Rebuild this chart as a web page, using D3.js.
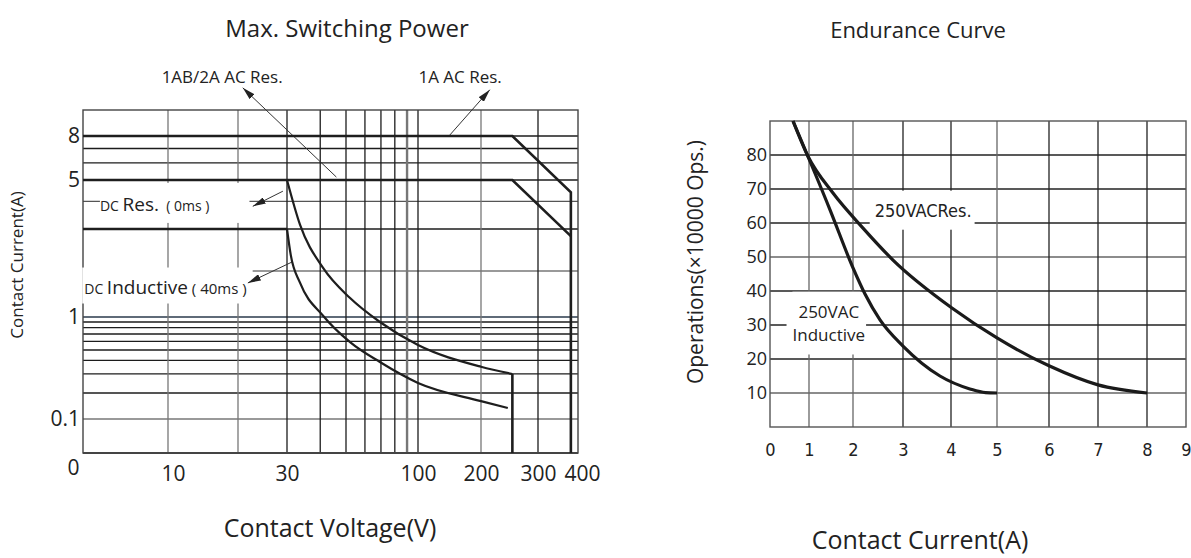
<!DOCTYPE html>
<html>
<head>
<meta charset="utf-8">
<script src="https://cdn.jsdelivr.net/npm/d3@7"></script>
<style>
  body { margin: 0; background: #fff; }
  text { font-family: "Open Sans", "Noto Sans", sans-serif; fill: #222; }
  .narrow { font-family: "Liberation Sans Narrow", "DejaVu Sans Condensed", "Roboto", sans-serif; }
</style>
</head>
<body>
<svg id="viz" width="1191" height="558"></svg>
<script>
(function() {
  var svg, defs, gL, gR, xL, yL, xR, yR, lineL, lineR, drawNotes;

  // ---------- left chart: Max. Switching Power ----------
  var voltTicks = [5, 10, 30, 100, 200, 300, 400];          // 5 is the origin, shown as "0"
  var voltGrid = [10, 20, 30, 40, 50, 60, 70, 80, 90, 100, 200, 300];
  var currTicks = [0.1, 1, 5, 8];
  var currGrid = [0.1, 0.2, 0.3, 0.4, 0.5, 0.6, 0.7, 0.8, 0.9, 1, 2, 3, 4, 5, 6, 7, 8];

  var acOneA = [[5, 8], [250, 8], [380, 4.4], [380, 0.05]];          // 1A AC Res.
  var acTwoA = [[5, 5], [250, 5], [380, 2.8]];                       // 1AB/2A AC Res.
  var dcRes = [[30, 5], [33.6, 3.13], [41, 2.06], [52, 1.33], [69.3, 0.9], [100, 0.555],
               [200, 0.35], [250, 0.3]];
  var dcResDrop = [[250, 0.3], [250, 0.05]];
  var dcIndFlat = [[5, 3], [30, 3]];
  var dcInd = [[30, 3], [31, 2.33], [33.6, 1.67], [41, 1.02], [52, 0.59], [69.3, 0.387],
               [100, 0.248], [200, 0.161], [242, 0.134]];

  var leftNotes = [
    { lines: [["1AB/2A AC Res.", 17]], at: [17.1, 13.2], anchor: "middle", arrow: [[46, 5.16], [20.8, 12.1]] },
    { lines: [["1A AC Res.", 17]], at: [159, 13.2], anchor: "middle", arrow: [[142, 8.07], [213, 11.9]] },
    { lines: [["DC ", 14], ["Res.", 19], ["  ( 0ms )", 14]], at: [5.74, 3.84], anchor: "start",
      box: [0, 8, 40, 6], arrow: [[29, 4.45], [22.6, 3.8]] },
    { lines: [["DC ", 14], ["Inductive", 19], [" ( 40ms )", 15]], at: [5.05, 1.55], anchor: "start",
      box: [2, 6, 6, 4], arrow: [[31.3, 2.18], [21.7, 1.67]] }
  ];

  // ---------- right chart: Endurance Curve ----------
  var ampTicks = [0, 1, 2, 3, 4, 5, 6, 7, 8, 9];
  var ampGrid = [1, 2, 3, 4, 5, 6, 7, 8];
  var opsTicks = [10, 20, 30, 40, 50, 60, 70, 80];
  var opsGrid = [10, 20, 30, 40, 50, 60, 70, 80];

  var resCurve = [[0.59, 90], [0.97, 79.7], [1.545, 68.8], [2.2, 58.5], [2.8, 49.1], [4.02, 35],
                  [5, 26.2], [6, 18], [7, 12.4], [8, 10]];
  var indCurve = [[0.59, 90], [1.48, 63.8], [2, 46.8], [2.24, 39.1], [2.54, 31.5], [3, 23.8],
                  [3.77, 15], [4.41, 11.2], [4.75, 10.1], [5, 10]];

  var rightNotes = [
    { lines: [["250VACRes.", 18]], at: [3.42, 63.5], anchor: "middle", narrow: true, box: [5, 9, 3, 9] },
    { lines: [["250VAC", 17]], at: [1.45, 33.8], anchor: "middle", box: [6, 8, 1, 0] },
    { lines: [["Inductive", 17]], at: [1.45, 26.8], anchor: "middle", box: [6, 2, 1, 8] }
  ];

  svg = d3.select("#viz");

  defs = svg.append("defs");
  defs.append("marker").attr("id", "arr").attr("viewBox", "0 0 13 7")
    .attr("refX", 13).attr("refY", 3.5).attr("markerWidth", 13).attr("markerHeight", 7)
    .attr("markerUnits", "userSpaceOnUse").attr("orient", "auto")
    .append("path").attr("d", "M0,0L13,3.5L0,7Z").attr("fill", "#222");

  // scales (the drawing's axes are hand-spaced, so they are piecewise)
  xL = d3.scaleLog().domain([5, 10, 20, 30, 50, 100, 200, 300, 400])
    .range([83, 168, 238, 287, 346, 418, 481, 538, 578]);
  yL = d3.scaleLog().domain([0.05, 0.1, 0.2, 0.5, 1, 2, 3, 5, 8, 10])
    .range([453, 419, 393, 350, 317, 271, 229, 180, 136, 110]);

  xR = d3.scaleLinear().domain(ampTicks)
    .range([770, 809, 853, 903, 951, 997, 1049, 1098, 1147, 1186]);
  yR = d3.scaleLinear().domain([0, 90]).range([427, 121]);

  lineL = d3.line().x(function(d) { return xL(d[0]); }).y(function(d) { return yL(d[1]); });
  lineR = d3.line().x(function(d) { return xR(d[0]); }).y(function(d) { return yR(d[1]); });

  drawNotes = function(g, notes, xs, ys) {
    notes.forEach(function(n) {
      var grp = g.append("g");
      var bg = grp.append("rect").attr("fill", "#fff");
      var t = grp.append("text")
        .attr("x", xs(n.at[0])).attr("y", ys(n.at[1]))
        .attr("dy", "0.35em").attr("text-anchor", n.anchor)
        .attr("class", n.narrow ? "narrow" : null);
      n.lines.forEach(function(p) {
        t.append("tspan").attr("font-size", p[1]).style("white-space", "pre").text(p[0]);
      });
      if (n.box) {
        var b = t.node().getBBox();
        bg.attr("x", b.x - n.box[0]).attr("y", b.y - n.box[1])
          .attr("width", b.width + n.box[0] + n.box[2])
          .attr("height", b.height + n.box[1] + n.box[3]);
      } else {
        bg.remove();
      }
      if (n.arrow) {
        grp.append("line")
          .attr("x1", xs(n.arrow[0][0])).attr("y1", ys(n.arrow[0][1]))
          .attr("x2", xs(n.arrow[1][0])).attr("y2", ys(n.arrow[1][1]))
          .attr("stroke", "#333").attr("stroke-width", 1)
          .attr("marker-end", "url(#arr)");
      }
    });
  };

  // ---------- left chart drawing ----------
  gL = svg.append("g");

  gL.selectAll(".hg").data(currGrid).enter().append("line")
    .attr("x1", xL(5)).attr("x2", xL(400))
    .attr("y1", function(d) { return yL(d); }).attr("y2", function(d) { return yL(d); })
    .attr("stroke", function(d) {
      if (d === 1) { return "#5f6b78"; }
      if (d === 0.1 || d === 2) { return "#777"; }
      if (d === 4) { return "#555"; }
      return "#1c1c1c";
    })
    .attr("stroke-width", function(d) { return d === 1 ? 1.8 : 1.3; });

  gL.selectAll(".vg").data(voltGrid).enter().append("line")
    .attr("x1", function(d) { return xL(d); }).attr("x2", function(d) { return xL(d); })
    .attr("y1", yL(10)).attr("y2", yL(0.05))
    .attr("stroke", function(d) { return (d === 90 || d === 200 || d === 10 || d === 20) ? "#777" : "#1c1c1c"; })
    .attr("stroke-width", function(d) { return d === 90 ? 2.4 : 1.3; });

  gL.append("rect")
    .attr("x", xL(5)).attr("y", yL(10))
    .attr("width", xL(400) - xL(5)).attr("height", yL(0.05) - yL(10))
    .attr("fill", "none").attr("stroke", "#444").attr("stroke-width", 1.4);
  gL.append("line")
    .attr("x1", xL(5)).attr("x2", xL(400)).attr("y1", yL(0.05)).attr("y2", yL(0.05))
    .attr("stroke", "#444").attr("stroke-width", 2.2);

  drawNotes(gL, leftNotes, xL, yL);

  [acOneA, acTwoA, dcIndFlat, dcResDrop].forEach(function(s) {
    gL.append("path").attr("d", lineL(s)).attr("fill", "none")
      .attr("stroke", "#1e1e1e").attr("stroke-width", 2.6).attr("stroke-linejoin", "miter");
  });
  lineL.curve(d3.curveMonotoneX);
  [dcRes, dcInd].forEach(function(s) {
    gL.append("path").attr("d", lineL(s)).attr("fill", "none")
      .attr("stroke", "#1e1e1e").attr("stroke-width", 2.2);
  });

  gL.append("g").attr("transform", "translate(0," + yL(0.05) + ")")
    .call(d3.axisBottom(xL).tickValues(voltTicks).tickSize(0).tickPadding(13)
      .tickFormat(function(d) { return d === 5 ? "0" : d; }))
    .call(function(g) {
      g.select(".domain").remove();
      g.selectAll("text").attr("font-size", 21).attr("font-family", null).attr("fill", "#222")
        .attr("dx", function(d) { return d === 5 ? -10 : (d === 10 ? 5 : (d === 400 ? 4 : 0)); })
        .attr("dy", function(d) { return d === 5 ? "0.45em" : "0.71em"; });
    });

  gL.append("g").attr("transform", "translate(" + xL(5) + ",0)")
    .call(d3.axisLeft(yL).tickValues(currTicks).tickSize(0).tickPadding(3)
      .tickFormat(function(d) { return d; }))
    .call(function(g) {
      g.select(".domain").remove();
      g.selectAll("text").attr("font-size", 21).attr("font-family", null).attr("fill", "#222");
    });

  svg.append("text").attr("x", 347).attr("y", 37).attr("text-anchor", "middle")
    .attr("font-size", 24).text("Max. Switching Power");
  svg.append("text").attr("x", 330).attr("y", 537).attr("text-anchor", "middle")
    .attr("font-size", 25).text("Contact Voltage(V)");
  svg.append("text").attr("transform", "translate(23,265) rotate(-90)").attr("text-anchor", "middle")
    .attr("font-size", 17).text("Contact Current(A)");

  // ---------- right chart drawing ----------
  gR = svg.append("g");

  gR.selectAll(".hg").data(opsGrid).enter().append("line")
    .attr("x1", xR(0)).attr("x2", xR(9))
    .attr("y1", function(d) { return yR(d); }).attr("y2", function(d) { return yR(d); })
    .attr("stroke", function(d) { return d === 10 || d === 50 ? "#666" : "#222"; })
    .attr("stroke-width", 1.3);

  gR.selectAll(".vg").data(ampGrid).enter().append("line")
    .attr("x1", function(d) { return xR(d); }).attr("x2", function(d) { return xR(d); })
    .attr("y1", yR(90)).attr("y2", yR(0))
    .attr("stroke", function(d) { return d === 1 || d === 2 || d === 5 ? "#666" : "#222"; })
    .attr("stroke-width", 1.3);

  gR.append("rect")
    .attr("x", xR(0)).attr("y", yR(90))
    .attr("width", xR(9) - xR(0)).attr("height", yR(0) - yR(90))
    .attr("fill", "none").attr("stroke", "#555").attr("stroke-width", 1.4);

  drawNotes(gR, rightNotes, xR, yR);

  lineR.curve(d3.curveMonotoneX);
  [resCurve, indCurve].forEach(function(s) {
    gR.append("path").attr("d", lineR(s)).attr("fill", "none")
      .attr("stroke", "#1a1a1a").attr("stroke-width", 3.2).attr("stroke-linecap", "butt");
  });

  gR.append("g").attr("transform", "translate(0," + yR(0) + ")")
    .call(d3.axisBottom(xR).tickValues(ampTicks).tickSize(0).tickPadding(16))
    .call(function(g) {
      g.select(".domain").remove();
      g.selectAll("text").attr("font-size", 18).attr("font-family", null).attr("class", "narrow")
        .attr("fill", "#222");
    });

  gR.append("g").attr("transform", "translate(" + xR(0) + ",0)")
    .call(d3.axisLeft(yR).tickValues(opsTicks).tickSize(0).tickPadding(3))
    .call(function(g) {
      g.select(".domain").remove();
      g.selectAll("text").attr("font-size", 18).attr("font-family", null).attr("fill", "#222");
    });

  svg.append("text").attr("x", 918).attr("y", 38).attr("text-anchor", "middle")
    .attr("font-size", 22).text("Endurance Curve");
  svg.append("text").attr("x", 920).attr("y", 549).attr("text-anchor", "middle")
    .attr("font-size", 25).text("Contact Current(A)");
  svg.append("text").attr("transform", "translate(703,262) rotate(-90)").attr("text-anchor", "middle")
    .attr("font-size", 21).text("Operations(\u00d710000 Ops.)");
}).call(this);
</script>
</body>
</html>
